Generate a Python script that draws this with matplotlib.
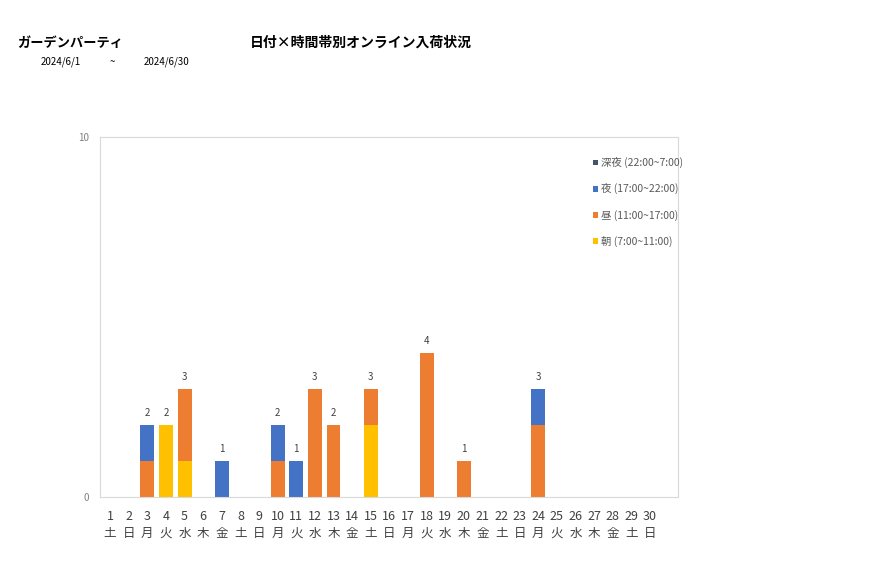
import numpy as np
import matplotlib.pyplot as plt

plt.rcParams['font.family'] = ['Noto Sans CJK JP', 'DejaVu Sans']

# データ
days = list(range(1, 31))
weekdays = ["土", "日", "月", "火", "水", "木", "金"] * 5
weekdays = weekdays[:30]
asa = [0, 0, 0, 2, 1, 0, 0, 0, 0, 0, 0, 0, 0, 0, 2, 0, 0, 0, 0, 0, 0, 0, 0, 0, 0, 0, 0, 0, 0, 0]
hiru = [0, 0, 1, 0, 2, 0, 0, 0, 0, 1, 0, 3, 2, 0, 1, 0, 0, 4, 0, 1, 0, 0, 0, 2, 0, 0, 0, 0, 0, 0]
yoru = [0, 0, 1, 0, 0, 0, 1, 0, 0, 1, 1, 0, 0, 0, 0, 0, 0, 0, 0, 0, 0, 0, 0, 1, 0, 0, 0, 0, 0, 0]
shinya = [0] * 30

labels = ["朝 (7:00~11:00)", "昼 (11:00~17:00)", "夜 (17:00~22:00)", "深夜 (22:00~7:00)"]
colors = ["#FFC000", "#ED7D31", "#4472C4", "#44546A"]

fig = plt.figure(figsize=(8.77, 5.78), dpi=100)
ax = fig.add_axes([100 / 877, 1 - 497 / 578, 578 / 877, 360 / 578])

x = np.array(days)
bottom = np.zeros(30)
handles = []
for vals, lab, col in zip([asa, hiru, yoru, shinya], labels, colors):
    h = ax.bar(x, vals, 0.75, bottom=bottom, color=col, label=lab)
    handles.append(h)
    bottom = bottom + np.array(vals)

for xi, tot in zip(x, bottom):
    if tot > 0:
        ax.text(xi, tot + 0.2, str(int(tot)), ha='center', va='bottom', fontsize=7, color='#404040')

ax.set_xlim(0.46, 31.5)
ax.set_ylim(0, 10)
ax.set_yticks([0, 10])
ax.set_yticklabels(["0", "10"], fontsize=7, color='#808080')
ax.set_xticks(x)
ax.set_xticklabels([f"{d}\n{w}" for d, w in zip(days, weekdays)], fontsize=9, color='#404040', linespacing=1.45)
ax.tick_params(axis='x', length=0, pad=9)
ax.tick_params(axis='y', length=0, pad=8)
for s in ax.spines.values():
    s.set_color('#D9D9D9')

leg = ax.legend(handles[::-1], labels[::-1], loc='upper right', bbox_to_anchor=(1.025, 0.97),
                frameon=False, fontsize=7.5, labelspacing=1.45, handlelength=0.5, handleheight=0.5,
                handletextpad=0.3, labelcolor='#595959')

fig.text(17 / 877, 1 - 43 / 578, "ガーデンパーティ", fontsize=9.5, fontweight='bold', va='center')
fig.text(250 / 877, 1 - 43 / 578, "日付×時間帯別オンライン入荷状況", fontsize=10, fontweight='bold', va='center')
fig.text(41 / 877, 1 - 62 / 578, "2024/6/1", fontsize=7, va='center')
fig.text(110 / 877, 1 - 62 / 578, "~", fontsize=7, va='center')
fig.text(144 / 877, 1 - 62 / 578, "2024/6/30", fontsize=7, va='center')

fig.savefig("out.png", dpi=100)
